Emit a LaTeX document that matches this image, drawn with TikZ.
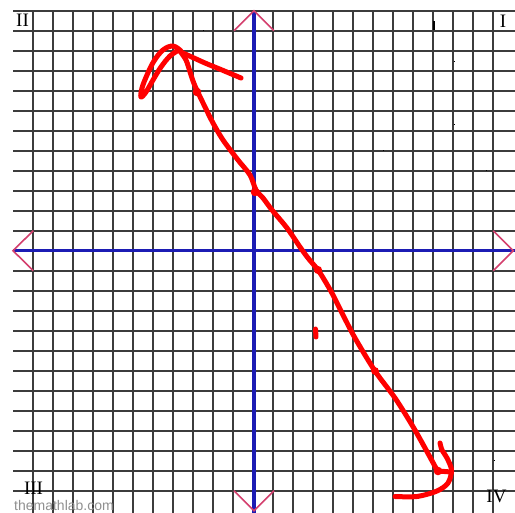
\documentclass[tikz,border=0pt]{standalone}
\usepackage{fontspec}
\setmainfont{Liberation Serif}
\newfontfamily\wmfont{Liberation Sans}
\definecolor{gridc}{HTML}{3C3C3C}
\definecolor{axisc}{HTML}{1C1CB4}
\definecolor{chevc}{HTML}{D4406E}
\definecolor{penc}{HTML}{FF0000}
\definecolor{wmc}{HTML}{909090}
\tikzset{
  gridline/.style={draw=gridc, line width=2.2pt},
  axisline/.style={draw=axisc, line width=3.4pt},
  chevron/.style={draw=chevc, line width=1.6pt},
  pen/.style={draw=penc, line width=5pt, line cap=round, line join=round},
  pendot/.style={fill=penc},
  quad/.style={inner sep=0pt, font=\fontsize{19}{19}\selectfont},
  wmark/.style={inner sep=0pt, text=wmc, font=\wmfont\fontsize{14}{14}\selectfont},
  speck/.style={fill=black}
}
\begin{document}
\begin{tikzpicture}[x=1pt,y=-1pt]
\useasboundingbox[fill=white] (0,0) rectangle (515,513);
% grid
\foreach \k in {0,...,24}{
  \ifnum\k=12\else
    \draw[gridline] (13,10.7+20*\k) -- (515,10.7+20*\k);
  \fi
}
\foreach \k in {0,...,23}{
  \ifnum\k=11\else
    \draw[gridline] (33.3+20*\k,10.7) -- (33.3+20*\k,513);
  \fi
}
% axes
\draw[axisline] (13,250.7) -- (515,250.7);
\draw[axisline] (254,10.7) -- (254,513);
% axis end chevrons
\draw[chevron] (33.3,230.7) -- (13,250.7) -- (33.3,270.7);
\draw[chevron] (493.3,230.7) -- (513.3,250.7) -- (493.3,270.7);
\draw[chevron] (234,30.7) -- (254,10.7) -- (274,30.7);
\draw[chevron] (234,490.7) -- (254,510.7) -- (274,490.7);
% quadrant labels
\node[quad] (qII) at (22.5,19.8) {II};
\node[quad] (qI) at (503,21) {I};
\node[quad] (qIII) at (33.5,487.8) {III};
\node[quad] (qIV) at (496.5,496.8) {IV};
\node[wmark] (wm) at (64,505) {themathlab.com};
% specks
\fill[speck] (202.5,30) rectangle (204,31.5);
\fill[speck] (433.3,21) rectangle (434.6,30);
\fill[speck] (453.5,61) rectangle (455,62.5);
\fill[speck] (453.5,124) rectangle (455,125.5);
\fill[speck] (382.5,150) rectangle (384,151.5);
\fill[speck] (485.5,170) rectangle (487,171.5);
\fill[speck] (493.5,460) rectangle (495,461.5);
% red hand drawing
\draw[pen] plot[smooth, tension=0.5] coordinates {(241,78) (222,70) (205,63) (183,53)};
\draw[pen] plot[smooth, tension=0.6] coordinates {(181,51) (173,46) (163,50) (154,61) (147,75) (142,88) (141,97) (146,92) (153,80) (161,67) (170,56) (179,50)};
\draw[pen] plot[smooth, tension=0.5] coordinates {(179,50) (186,60) (191,75) (195,86) (205,107) (213,123) (223,140) (238,160) (250,175) (256,190) (263,198) (272,210) (287,228) (300,247) (308,258) (318,270) (325,281) (333,295) (342,313) (355,338) (375,371) (395,398) (412,425) (425,448) (437,470)};
\draw[pen] plot[smooth, tension=0.5] coordinates {(440,443) (442,450) (447,458) (451.5,470) (448,483) (437,491) (417,496.5) (395,496.5)};
\draw[pen] (438,471) -- (451,472);
\draw[pen] (315.5,329) -- (316,337);
\fill[pendot] (197,92) circle (4.3);
\fill[pendot] (255,192) circle (4.3);
\fill[pendot] (318,270) circle (4.1);
\fill[pendot] (375,371) circle (3.9);
\fill[pendot] (438,471) circle (4.3);
\end{tikzpicture}
\end{document}
